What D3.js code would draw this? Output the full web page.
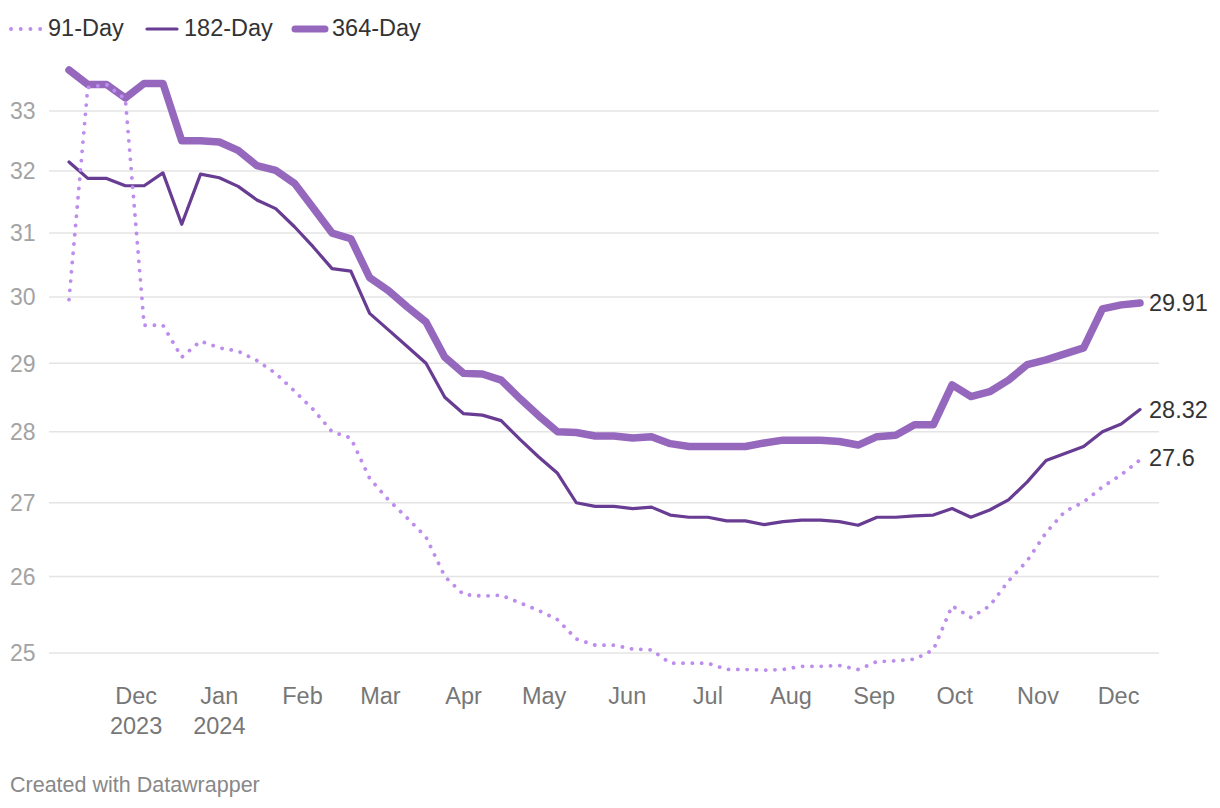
<!DOCTYPE html>
<html>
<head>
<meta charset="utf-8">
<script src="https://cdn.jsdelivr.net/npm/d3@7"></script>
<style>
  html, body { margin: 0; padding: 0; background: #fff; }
  svg { display: block; font-family: "Liberation Sans", Arial, Helvetica, sans-serif; }
</style>
</head>
<body>
<svg id="chart" width="1220" height="808"></svg>
<script>
// ---- data ----
const dates = [
  "2023-11-06","2023-11-13","2023-11-20","2023-11-27","2023-12-04","2023-12-11","2023-12-18","2023-12-25",
  "2024-01-01","2024-01-08","2024-01-15","2024-01-22","2024-01-29","2024-02-05","2024-02-12","2024-02-19",
  "2024-02-26","2024-03-04","2024-03-11","2024-03-18","2024-03-25","2024-04-01","2024-04-08","2024-04-15",
  "2024-04-22","2024-04-29","2024-05-06","2024-05-13","2024-05-20","2024-05-27","2024-06-03","2024-06-10",
  "2024-06-17","2024-06-24","2024-07-01","2024-07-08","2024-07-15","2024-07-22","2024-07-29","2024-08-05",
  "2024-08-12","2024-08-19","2024-08-26","2024-09-02","2024-09-09","2024-09-16","2024-09-23","2024-09-30",
  "2024-10-07","2024-10-14","2024-10-21","2024-10-28","2024-11-04","2024-11-11","2024-11-18","2024-11-25",
  "2024-12-02","2024-12-09"
];
const day91 = [
  29.96,33.40,33.45,33.20,29.57,29.57,29.09,29.33,29.23,29.18,29.04,28.85,28.59,28.32,28.00,27.91,
  27.34,27.04,26.79,26.53,26.00,25.76,25.74,25.75,25.65,25.55,25.43,25.18,25.10,25.10,25.05,25.04,
  24.87,24.87,24.87,24.79,24.79,24.78,24.79,24.83,24.83,24.84,24.79,24.89,24.90,24.92,25.04,25.61,
  25.46,25.61,25.94,26.21,26.59,26.88,27.01,27.22,27.39,27.60
];
const day182 = [
  32.15,31.88,31.88,31.76,31.76,31.97,31.14,31.95,31.89,31.75,31.53,31.39,31.10,30.78,30.44,30.40,
  29.75,29.50,29.25,29.00,28.50,28.26,28.24,28.16,27.89,27.64,27.41,27.00,26.95,26.95,26.92,26.94,
  26.83,26.80,26.80,26.75,26.75,26.70,26.74,26.76,26.76,26.74,26.69,26.80,26.80,26.82,26.83,26.92,
  26.80,26.90,27.04,27.29,27.59,27.69,27.79,28.00,28.11,28.32
];
const day364 = [
  33.70,33.45,33.45,33.22,33.47,33.47,32.50,32.50,32.48,32.34,32.09,32.01,31.80,31.40,31.00,30.91,
  30.30,30.10,29.85,29.62,29.09,28.85,28.84,28.75,28.48,28.23,28.00,27.99,27.94,27.94,27.91,27.93,
  27.83,27.79,27.79,27.79,27.79,27.84,27.88,27.88,27.88,27.86,27.81,27.93,27.95,28.10,28.10,28.68,
  28.51,28.58,28.75,28.98,29.05,29.14,29.23,29.82,29.88,29.91
];
const seriesNames = ["91-Day", "182-Day", "364-Day"];
const endLabels = ["27.6", "28.32", "29.91"];
const yTicks = [25, 26, 27, 28, 29, 30, 31, 32, 33];
const xTickDates = ["2023-12-01","2024-01-01","2024-02-01","2024-03-01","2024-04-01","2024-05-01",
  "2024-06-01","2024-07-01","2024-08-01","2024-09-01","2024-10-01","2024-11-01","2024-12-01"];
const xTickLabels = [["Dec","2023"],["Jan","2024"],["Feb"],["Mar"],["Apr"],["May"],["Jun"],["Jul"],
  ["Aug"],["Sep"],["Oct"],["Nov"],["Dec"]];

// ---- setup ----
const parse = d3.utcParse("%Y-%m-%d");
const xDates = dates.map(parse);
const svg = d3.select("#chart");

const x = d3.scaleUtc().domain(d3.extent(xDates)).range([69, 1140]);
const y = d3.scaleLog().domain([25, 33]).range([653, 111]);

const gridLeft = 49, gridRight = 1159;

// gridlines + y labels
const gy = svg.append("g");
yTicks.forEach(t => {
  gy.append("line")
    .attr("x1", gridLeft).attr("x2", gridRight)
    .attr("y1", y(t)).attr("y2", y(t))
    .attr("stroke", "#e4e4e4").attr("stroke-width", 1.6);
  gy.append("text")
    .attr("x", 10).attr("y", y(t)).attr("dy", "0.36em")
    .attr("font-size", 23).attr("fill", "#a3a3a3")
    .text(t);
});

// x labels
const gx = svg.append("g");
xTickDates.forEach((d, i) => {
  const t = gx.append("text")
    .attr("x", x(parse(d))).attr("y", 704)
    .attr("text-anchor", "middle")
    .attr("font-size", 23.5).attr("fill", "#777");
  xTickLabels[i].forEach((s, j) => {
    t.append("tspan").attr("x", x(parse(d))).attr("dy", j === 0 ? 0 : 30).text(s);
  });
});

// lines
const styles = [
  { color: "#bd8ded", width: 3.8, dash: "0.1 9.2" },
  { color: "#673c92", width: 3.2, dash: null },
  { color: "#9568bd", width: 7.5, dash: null }
];
const values = [day91, day182, day364];
const line = d3.line().x((d, i) => x(xDates[i])).y(d => y(d));

const gl = svg.append("g");
[2, 1, 0].forEach(k => {
  const p = gl.append("path")
    .datum(values[k])
    .attr("d", line)
    .attr("fill", "none")
    .attr("stroke", styles[k].color)
    .attr("stroke-width", styles[k].width)
    .attr("stroke-linecap", "round")
    .attr("stroke-linejoin", "round");
  if (styles[k].dash) p.attr("stroke-dasharray", styles[k].dash);
});

// end labels
const endOffsets = [-2, 0, 0];
values.forEach((v, k) => {
  svg.append("text")
    .attr("x", x(xDates[xDates.length - 1]) + 9)
    .attr("y", y(v[v.length - 1]) + endOffsets[k])
    .attr("dy", "0.36em")
    .attr("font-size", 23.5).attr("fill", "#333")
    .text(endLabels[k]);
});

// legend
const legendX = [11, 147, 295];
const legendTextX = [48, 184, 332];
const gleg = svg.append("g");
seriesNames.forEach((n, k) => {
  const l = gleg.append("line")
    .attr("x1", legendX[k]).attr("x2", legendX[k] + 30)
    .attr("y1", 29).attr("y2", 29)
    .attr("stroke", styles[k].color)
    .attr("stroke-width", k === 2 ? 7 : (k === 1 ? 3.2 : 3.8))
    .attr("stroke-linecap", "round");
  if (styles[k].dash) l.attr("stroke-dasharray", "0.1 9.6");
  gleg.append("text")
    .attr("x", legendTextX[k]).attr("y", 36)
    .attr("font-size", 23.5).attr("fill", "#333")
    .text(n);
});

// credit
svg.append("text")
  .attr("x", 10).attr("y", 792)
  .attr("font-size", 21.5).attr("fill", "#888")
  .text("Created with Datawrapper");
</script>
</body>
</html>
